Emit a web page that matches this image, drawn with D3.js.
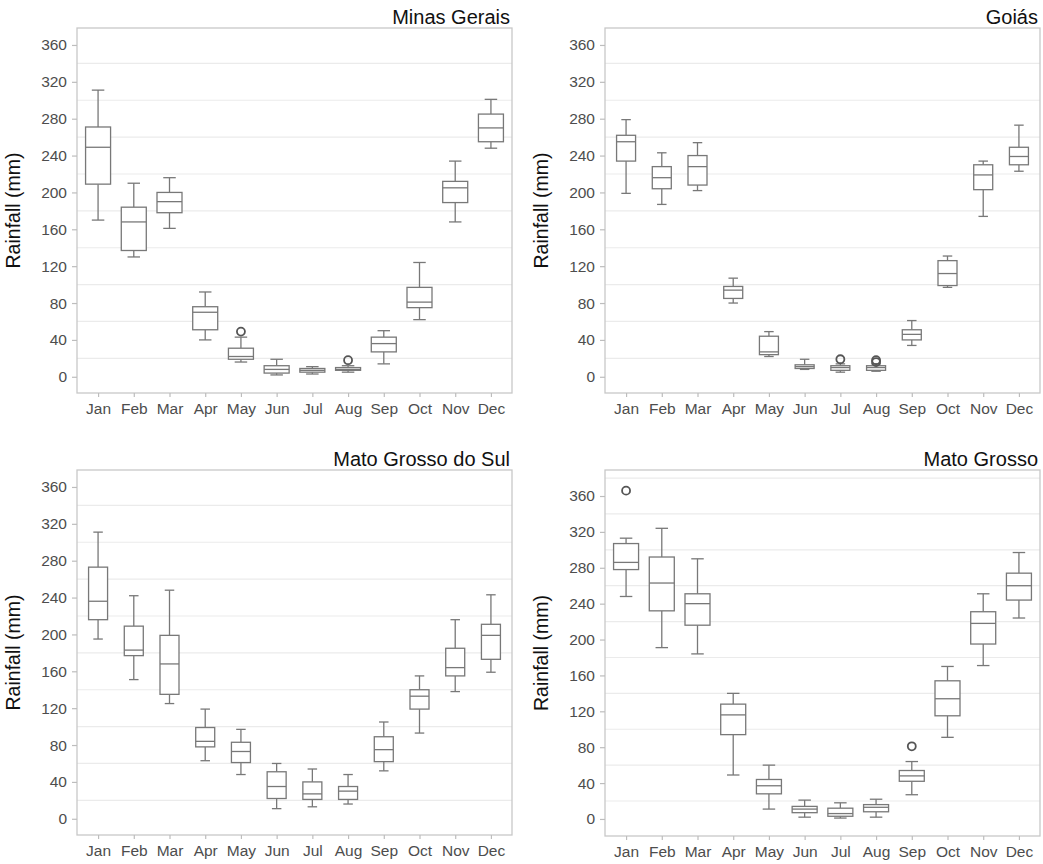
<!DOCTYPE html>
<html>
<head>
<meta charset="utf-8">
<script src="https://cdn.jsdelivr.net/npm/d3@7"></script>
<style>
  html, body { margin: 0; padding: 0; background: #fff; }
  svg { display: block; font-family: "Liberation Sans", Arial, sans-serif; }
</style>
</head>
<body>
<svg id="chart" width="1043" height="864"></svg>
<script>
// ---- data: [lower whisker, Q1, median, Q3, upper whisker] per month ----
const months = ["Jan","Feb","Mar","Apr","May","Jun","Jul","Aug","Sep","Oct","Nov","Dec"];
const yTicks = [0, 40, 80, 120, 160, 200, 240, 280, 320, 360];

const minasGerais = [
  [170,209,249,271,311],[130,137,168,184,210],[161,178,190,200,216],[40,51,70,76,92],
  [16,19,22,31,43],[2,4,8,12,19],[3,5,7,9,11],[5,7,8,10,12],
  [14,27,36,43,50],[62,75,81,97,124],[168,189,205,212,234],[248,255,270,285,301]
];
const minasGeraisOut = [["May",49],["Aug",18]];

const goias = [
  [199,234,255,262,279],[187,204,216,228,243],[202,208,228,240,254],[80,85,94,98,107],
  [22,24,27,44,49],[8,9,11,13,19],[5,7,10,12,14],[6,7,10,12,14],
  [34,40,46,51,61],[97,99,112,126,131],[174,203,219,230,234],[223,230,239,249,273]
];
const goiasOut = [["Jul",19],["Aug",18],["Aug",16]];

const matoGrossoDoSul = [
  [195,216,236,273,311],[151,177,183,209,242],[125,135,168,199,248],[63,78,84,99,119],
  [48,61,73,83,97],[11,22,35,51,60],[13,21,27,40,54],[16,21,30,35,48],
  [52,62,75,89,105],[93,119,133,140,155],[138,155,164,185,216],[159,173,199,211,243]
];
const matoGrossoDoSulOut = [];

const matoGrosso = [
  [248,278,286,307,313],[191,232,263,292,324],[184,216,240,251,290],[49,94,116,128,140],
  [11,28,37,44,60],[2,7,11,14,21],[1,3,6,12,18],[2,8,13,16,22],
  [27,42,48,54,64],[91,115,134,154,170],[171,195,218,231,251],[224,244,260,274,297]
];
const matoGrossoOut = [["Jan",366],["Sep",81]];

const panels = [
  {title: "Minas Gerais", data: minasGerais, out: minasGeraisOut, x0: 77, x1: 512, y0: 28, y1: 393, dom: [-17.6, 378.4], bw: 25},
  {title: "Goiás", data: goias, out: goiasOut, x0: 605, x1: 1040, y0: 28, y1: 393, dom: [-17.6, 378.4], bw: 19},
  {title: "Mato Grosso do Sul", data: matoGrossoDoSul, out: matoGrossoDoSulOut, x0: 77, x1: 512, y0: 470, y1: 835, dom: [-17.6, 378.4], bw: 19},
  {title: "Mato Grosso", data: matoGrosso, out: matoGrossoOut, x0: 605, x1: 1040, y0: 470, y1: 836, dom: [-19, 389], bw: 25}
];

const svg = d3.select("#chart");
const boxColor = "#787878";

panels.forEach(p => {
  const g = svg.append("g");
  const x = d3.scalePoint().domain(months).range([p.x0, p.x1]).padding(0.59);
  const y = d3.scaleLinear().domain(p.dom).range([p.y1, p.y0]);

  // gridlines (between ticks)
  const grid = d3.range(20, p.dom[1], 40);
  g.selectAll("line.grid").data(grid).enter().append("line")
    .attr("x1", p.x0).attr("x2", p.x1)
    .attr("y1", d => y(d)).attr("y2", d => y(d))
    .attr("stroke", "#ebebeb").attr("stroke-width", 1.2);

  // frame
  g.append("rect")
    .attr("x", p.x0).attr("y", p.y0)
    .attr("width", p.x1 - p.x0).attr("height", p.y1 - p.y0)
    .attr("fill", "none").attr("stroke", "#c8c8c8").attr("stroke-width", 1.3);

  // axes
  const yAxis = d3.axisLeft(y).tickValues(yTicks).tickSize(5).tickPadding(5);
  const ya = g.append("g").attr("transform", `translate(${p.x0},0)`).call(yAxis);
  const xAxis = d3.axisBottom(x).tickSize(4).tickPadding(6);
  const xa = g.append("g").attr("transform", `translate(0,${p.y1})`).call(xAxis);
  [ya, xa].forEach(a => {
    a.select(".domain").remove();
    a.selectAll(".tick line").attr("stroke", "#bdbdbd").attr("stroke-width", 1.2);
    a.selectAll(".tick text").attr("fill", "#4d4d4d")
      .style("font-size", "15.5px").style("font-family", "'Liberation Sans', Arial, sans-serif");
  });

  // y-axis title
  g.append("text")
    .attr("transform", `translate(${p.x0 - 57},${(p.y0 + p.y1) / 2}) rotate(-90)`)
    .attr("text-anchor", "middle")
    .attr("fill", "#111")
    .style("font-size", "19.5px")
    .text("Rainfall (mm)");

  // panel title
  g.append("text")
    .attr("x", p.x1 - 2).attr("y", p.y0 - 4)
    .attr("text-anchor", "end")
    .attr("fill", "#111")
    .style("font-size", "20px")
    .text(p.title);

  // boxes
  const rows = p.data.map((d, i) => ({m: months[i], lo: d[0], q1: d[1], med: d[2], q3: d[3], hi: d[4]}));
  const bg = g.selectAll("g.box").data(rows).enter().append("g")
    .attr("fill", "none").attr("stroke", boxColor).attr("stroke-width", 1.3);
  const cw = p.bw / 2;
  // whiskers
  bg.append("line").attr("x1", d => x(d.m)).attr("x2", d => x(d.m))
    .attr("y1", d => y(d.hi)).attr("y2", d => y(d.q3));
  bg.append("line").attr("x1", d => x(d.m)).attr("x2", d => x(d.m))
    .attr("y1", d => y(d.q1)).attr("y2", d => y(d.lo));
  // caps
  bg.append("line").attr("x1", d => x(d.m) - cw / 2).attr("x2", d => x(d.m) + cw / 2)
    .attr("y1", d => y(d.hi)).attr("y2", d => y(d.hi));
  bg.append("line").attr("x1", d => x(d.m) - cw / 2).attr("x2", d => x(d.m) + cw / 2)
    .attr("y1", d => y(d.lo)).attr("y2", d => y(d.lo));
  // box
  bg.append("rect")
    .attr("x", d => x(d.m) - p.bw / 2).attr("width", p.bw)
    .attr("y", d => y(d.q3)).attr("height", d => Math.max(0.5, y(d.q1) - y(d.q3)))
    .attr("fill", "#fff");
  // median
  bg.append("line").attr("x1", d => x(d.m) - p.bw / 2).attr("x2", d => x(d.m) + p.bw / 2)
    .attr("y1", d => y(d.med)).attr("y2", d => y(d.med));

  // outliers
  g.selectAll("circle.out").data(p.out).enter().append("circle")
    .attr("cx", d => x(d[0])).attr("cy", d => y(d[1])).attr("r", 4)
    .attr("fill", "none").attr("stroke", "#555").attr("stroke-width", 1.8);
});
</script>
</body>
</html>
